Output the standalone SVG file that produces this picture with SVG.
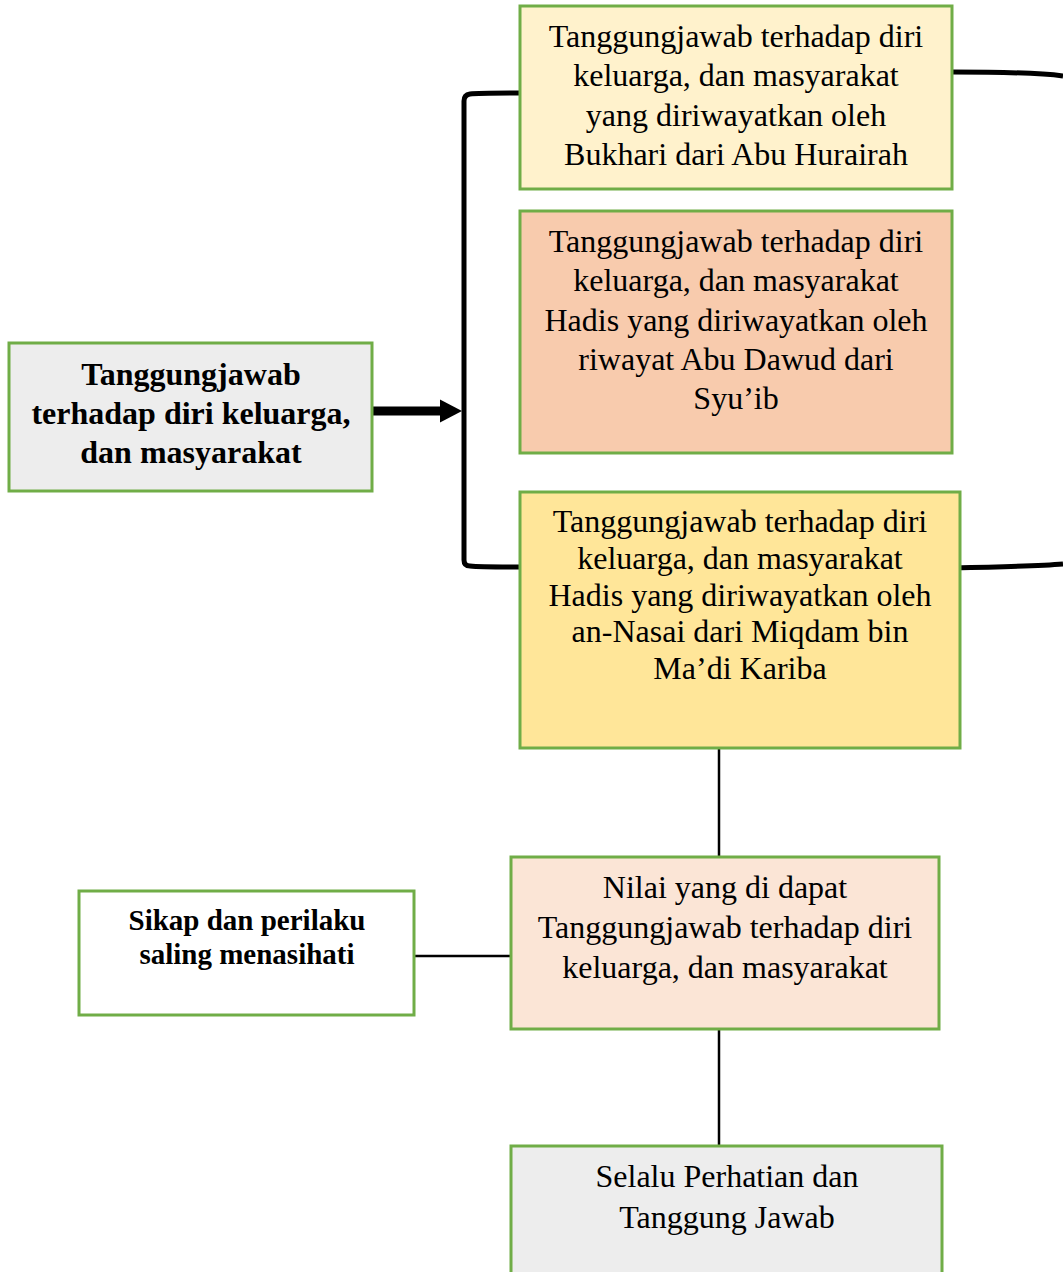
<svg xmlns="http://www.w3.org/2000/svg" width="1063" height="1272" viewBox="0 0 1063 1272">
<style>
.box{stroke:#70AD47;stroke-width:3}
.t{font-family:"Liberation Serif","Times New Roman",serif;font-size:32px;fill:#000;text-anchor:middle}
.b{font-weight:bold}
.s{font-size:29px}
.thick{fill:none;stroke:#000;stroke-width:5;stroke-linejoin:round}
.thin{fill:none;stroke:#000;stroke-width:2.5}
</style>
<defs>
<marker id="ah" markerWidth="22" markerHeight="24" refX="1" refY="12" orient="auto" markerUnits="userSpaceOnUse">
<path d="M0,0.5 L22,12 L0,23.5 Z" fill="#000"/>
</marker>
</defs>
<rect width="1063" height="1272" fill="#fff"/>
<g id="connectors">
<path class="thick" d="M520,93 C500,93 478,93 470,94 Q464,95 464,101 L464,560 Q464,566 470,566 C480,567 500,567 520,567"/>
<line x1="372" y1="411" x2="441" y2="411" stroke="#000" stroke-width="9" marker-end="url(#ah)"/>
<path class="thick" d="M952,72 C1000,72 1040,73 1063,76"/>
<path class="thick" d="M952,568 C1000,567 1040,566 1063,564"/>
<line class="thin" x1="719" y1="748" x2="719" y2="857"/>
<line class="thin" x1="414" y1="956" x2="520" y2="956"/>
<line class="thin" x1="719" y1="1029" x2="719" y2="1146"/>
</g>
<g id="node-main">
<rect class="box" x="9" y="343" width="363" height="148" fill="#EDEDED"/>
<text class="t b" x="191" y="385">Tanggungjawab</text>
<text class="t b" x="191" y="424">terhadap diri keluarga,</text>
<text class="t b" x="191" y="463">dan masyarakat</text>
</g>
<g id="node-bukhari">
<rect class="box" x="520" y="6" width="432" height="183" fill="#FFF2CC"/>
<text class="t" x="736" y="47">Tanggungjawab terhadap diri</text>
<text class="t" x="736" y="86">keluarga, dan masyarakat</text>
<text class="t" x="736" y="126">yang diriwayatkan oleh</text>
<text class="t" x="736" y="165">Bukhari dari Abu Hurairah</text>
</g>
<g id="node-abudawud">
<rect class="box" x="520" y="211" width="432" height="242" fill="#F8CBAD"/>
<text class="t" x="736" y="252">Tanggungjawab terhadap diri</text>
<text class="t" x="736" y="291">keluarga, dan masyarakat</text>
<text class="t" x="736" y="331">Hadis yang diriwayatkan oleh</text>
<text class="t" x="736" y="370">riwayat Abu Dawud dari</text>
<text class="t" x="736" y="409">Syu’ib</text>
</g>
<g id="node-nasai">
<rect class="box" x="520" y="492" width="440" height="256" fill="#FFE699"/>
<text class="t" x="740" y="532">Tanggungjawab terhadap diri</text>
<text class="t" x="740" y="569">keluarga, dan masyarakat</text>
<text class="t" x="740" y="606">Hadis yang diriwayatkan oleh</text>
<text class="t" x="740" y="642">an-Nasai dari Miqdam bin</text>
<text class="t" x="740" y="679">Ma’di Kariba</text>
</g>
<g id="node-nilai">
<rect class="box" x="511" y="857" width="428" height="172" fill="#FBE5D6"/>
<text class="t" x="725" y="898">Nilai yang di dapat</text>
<text class="t" x="725" y="938">Tanggungjawab terhadap diri</text>
<text class="t" x="725" y="978">keluarga, dan masyarakat</text>
</g>
<g id="node-sikap">
<rect class="box" x="79" y="891" width="335" height="124" fill="#FFFFFF"/>
<text class="t b s" x="247" y="930">Sikap dan perilaku</text>
<text class="t b s" x="247" y="964">saling menasihati</text>
</g>
<g id="node-selalu">
<rect class="box" x="511" y="1146" width="431" height="140" fill="#EDEDED"/>
<text class="t" x="727" y="1187">Selalu Perhatian dan</text>
<text class="t" x="727" y="1228">Tanggung Jawab</text>
</g>
</svg>
